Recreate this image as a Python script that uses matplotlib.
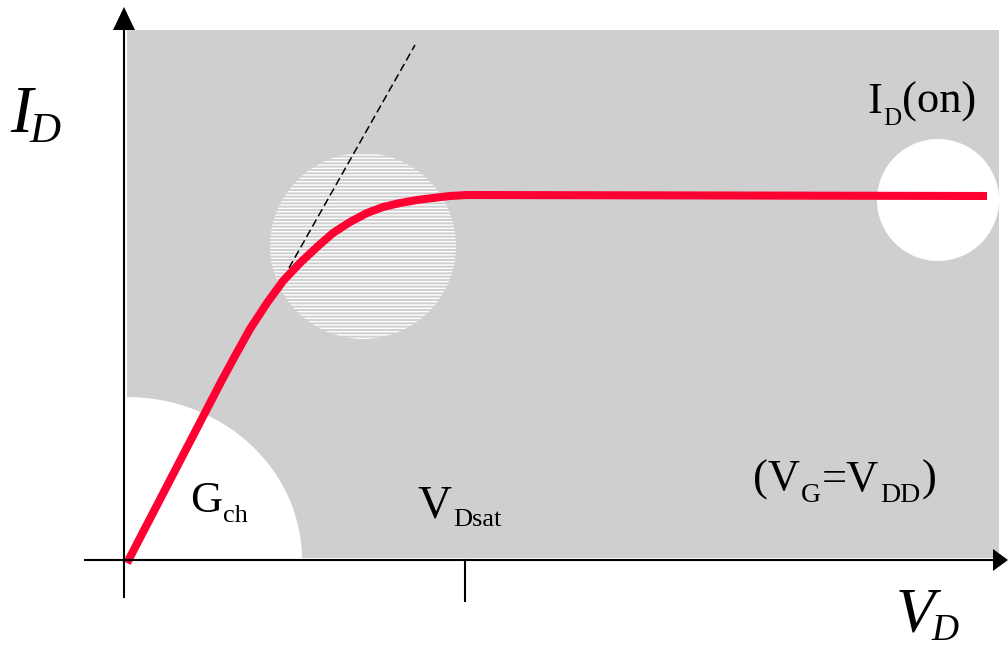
import matplotlib
matplotlib.use("Agg")
import matplotlib.pyplot as plt
from matplotlib.patches import Rectangle, Ellipse, Circle, Polygon

# data units = pixels measured from the origin of the I-V axes
vd = [3, 98, 111, 126, 143, 159, 176, 193, 209, 226, 243, 259, 276, 293, 309, 326, 343, 863]
id_ = [-3, 180, 204, 231, 257, 279, 297, 313, 327, 338, 347, 353, 357, 360, 362, 364, 365, 364]

# linear (ohmic) extrapolation
tan_vd = [165, 291]
tan_id = [292, 515]

vdsat = 341

plt.rcParams['hatch.linewidth'] = 1.0
serif = 'Liberation Serif'

fig = plt.figure(figsize=(10.08, 6.45), dpi=100)
ax = fig.add_axes([0, 0, 1, 1])
ax.set_xlim(-124, 884)
ax.set_ylim(-85, 560)
ax.axis('off')

# shaded plot area
ax.add_patch(Rectangle((3, 2), 872, 528, facecolor='#cfcfcf', edgecolor='none', zorder=1))

# highlighted regions
ax.add_patch(Ellipse((3, 0), 350, 326, facecolor='white', edgecolor='none', zorder=2))
ax.add_patch(Circle((239, 314), 93, facecolor='none', edgecolor='white',
                    linewidth=0, hatch='-----', zorder=2))
ax.add_patch(Circle((814, 360), 61, facecolor='white', edgecolor='none', zorder=2))

# tangent and curve
ax.plot(tan_vd, tan_id, color='black', lw=1.1, linestyle=(0, (5.2, 2.6)), zorder=3)
ax.plot(vd, id_, color='#ff0033', lw=5.8, solid_capstyle='butt',
        solid_joinstyle='round', zorder=4)

# axes with arrows
ax.plot([0, 0], [-37, 531], color='black', lw=1.5, zorder=5)
ax.plot([-39, 870], [0, 0], color='black', lw=1.5, zorder=5)
ax.add_patch(Polygon([[-11, 530], [11, 530], [0, 553]], closed=True,
                     facecolor='black', edgecolor='none', zorder=5))
ax.add_patch(Polygon([[869, 11], [869, -11], [884, 0]], closed=True,
                     facecolor='black', edgecolor='none', zorder=5))
ax.plot([vdsat, vdsat], [0, -41], color='black', lw=1.5, zorder=5)

renderer = fig.canvas.get_renderer()
inv = ax.transData.inverted()


def label(px, py, pieces, style='normal', gap=1):
    # pieces: (text, fontsize, baseline drop in px); each follows the previous one
    x = px - 124
    for s, size, drop in pieces:
        t = ax.text(x, 560 - py - drop, s, fontsize=size, fontfamily=serif,
                    fontstyle=style, ha='left', va='baseline', zorder=6)
        bb = t.get_window_extent(renderer)
        x = inv.transform((bb.x1, 0))[0] + gap


label(10, 132, [('I', 48, 0), ('D', 31, 10)], style='italic', gap=-3)
label(896, 632, [('V', 46, 0), ('D', 27, 8)], style='italic', gap=-4)

label(867, 113, [('I', 32, 0), ('D', 18, 12), ('(on)', 32, 0)], gap=1)
label(190, 512, [('G', 32, 0), ('ch', 19, 10)])
label(418, 517, [('V', 34, 0), ('Dsat', 19, 9)])
label(753, 491, [('(V', 32, 0), ('G', 20, 11), ('=V', 32, 0), ('DD', 20, 11), (')', 32, 0)])

fig.savefig('out.png', dpi=100)
